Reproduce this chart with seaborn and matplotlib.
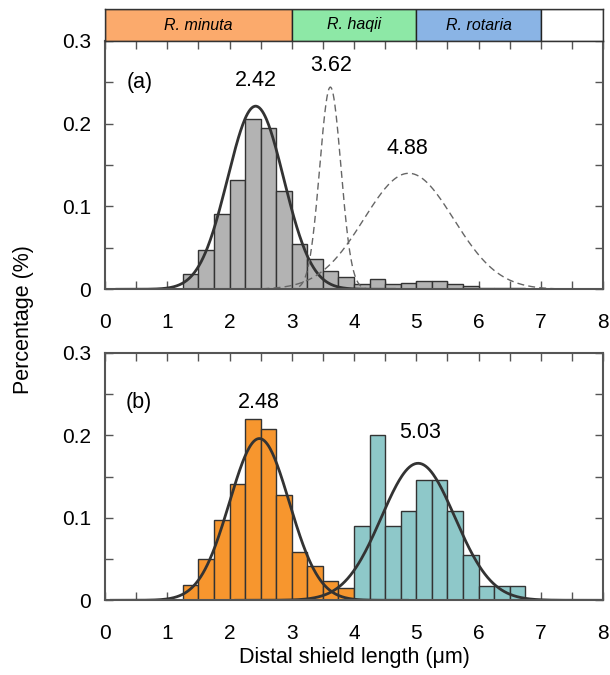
import numpy as np
import pandas as pd
import seaborn as sns
import matplotlib.pyplot as plt

# histogram percentages, bin width 0.25 um
bin_width = 0.25
top_start = 1.25
top_pct = [0.018, 0.047, 0.091, 0.132, 0.206, 0.195, 0.119, 0.055, 0.037,
           0.022, 0.015, 0.006, 0.012, 0.006, 0.007, 0.0096, 0.0096, 0.0064,
           0.0036, 0.001, 0.001, 0.001]
orange_start = 1.25
orange_pct = [0.019, 0.050, 0.097, 0.141, 0.220, 0.208, 0.127, 0.059, 0.041,
              0.023, 0.015]
teal_start = 4.0
teal_pct = [0.090, 0.200, 0.090, 0.1085, 0.1455, 0.1455, 0.1085, 0.055,
            0.0177, 0.0177, 0.0177]

# fitted normal curves: mean, sd, peak height
top_mean = [2.42, 3.62, 4.88]
top_sd = [0.45, 0.17, 0.72]
top_peak = [0.221, 0.244, 0.140]
bot_mean = [2.48, 5.03]
bot_sd = [0.48, 0.59]
bot_peak = [0.196, 0.166]

species = ["R. minuta", "R. haqii", "R. rotaria", ""]
species_lo = [0, 3, 5, 7]
species_hi = [3, 5, 7, 8]
species_col = ["#FBAA6C", "#8DE8A6", "#8AB4E5", "#FFFFFF"]

sns.set_style("ticks")
plt.rcParams["font.family"] = ["Liberation Sans", "DejaVu Sans"]
plt.rcParams["text.color"] = "black"
plt.rcParams["xtick.labelcolor"] = "black"
plt.rcParams["ytick.labelcolor"] = "black"

W, H = 610, 675
fig = plt.figure(figsize=(W / 100, H / 100), dpi=100)


def box(l, t, r, b):
    return [l / W, 1 - b / H, (r - l) / W, (b - t) / H]


ax_top = fig.add_axes(box(105, 40.7, 603, 289.3))
ax_bot = fig.add_axes(box(105, 352.7, 603, 600.3))
ax_band = fig.add_axes(box(105, 9.3, 603, 40.7))


def draw_hist(ax, start, pct, color):
    n = len(pct)
    df = pd.DataFrame({"x": start + bin_width * (np.arange(n) + 0.5),
                       "pct": pct})
    sns.histplot(data=df, x="x", weights="pct", binwidth=bin_width,
                 binrange=(start, start + bin_width * n), stat="count",
                 color=color, alpha=1, edgecolor="#333333", linewidth=1,
                 ax=ax)


def draw_fit(ax, mean, sd, peak, **kw):
    xs = np.linspace(max(mean - 5 * sd, 0), min(mean + 5 * sd, 8), 400)
    ys = peak * np.exp(-0.5 * ((xs - mean) / sd) ** 2)
    sns.lineplot(x=xs, y=ys, ax=ax, sort=False, **kw)


draw_hist(ax_top, top_start, top_pct, "#B3B3B3")
draw_fit(ax_top, top_mean[0], top_sd[0], top_peak[0], color="#333333", lw=2)
for m, s, p in zip(top_mean[1:], top_sd[1:], top_peak[1:]):
    draw_fit(ax_top, m, s, p, color="#666666", lw=1, linestyle=(0, (5, 3)))

draw_hist(ax_bot, orange_start, orange_pct, "#F7962E")
draw_hist(ax_bot, teal_start, teal_pct, "#8EC8C9")
for m, s, p in zip(bot_mean, bot_sd, bot_peak):
    draw_fit(ax_bot, m, s, p, color="#333333", lw=2)

xt = np.arange(0, 8.01, 0.5)
xl = [str(int(v)) if v == int(v) else "" for v in xt]
yt = np.arange(0, 0.301, 0.05)
yl = ["0", "", "0.1", "", "0.2", "", "0.3"]
for ax in (ax_top, ax_bot):
    ax.set_xlim(0, 8)
    ax.set_ylim(0, 0.3)
    ax.set_xticks(xt)
    ax.set_xticklabels(xl)
    ax.set_yticks(yt)
    ax.set_yticklabels(yl)
    ax.set_xlabel("")
    ax.set_ylabel("")
    ax.tick_params(direction="in", top=True, right=True, length=6, width=1,
                   color="#555555", labelsize=15, labelcolor="black")
    ax.tick_params(axis="x", pad=17)
    ax.tick_params(axis="y", pad=10)
    for sp in ax.spines.values():
        sp.set_visible(True)
        sp.set_color("#555555")
        sp.set_linewidth(1.5)

# labels on the panels
ax_top.text(0.56, 0.250, "(a)", fontsize=15.5, ha="center", va="center")
ax_top.text(2.43, 0.252, f"{top_mean[0]:.2f}", fontsize=15.5, ha="center", va="center")
ax_top.text(3.63, 0.270, f"{top_mean[1]:.2f}", fontsize=15.5, ha="center", va="center")
ax_top.text(4.85, 0.170, f"{top_mean[2]:.2f}", fontsize=15.5, ha="center", va="center")
ax_bot.text(0.54, 0.240, "(b)", fontsize=15.5, ha="center", va="center")
ax_bot.text(2.47, 0.240, f"{bot_mean[0]:.2f}", fontsize=15.5, ha="center", va="center")
ax_bot.text(5.06, 0.203, f"{bot_mean[1]:.2f}", fontsize=15.5, ha="center", va="center")

# species band on top
for name, lo, hi, col in zip(species, species_lo, species_hi, species_col):
    ax_band.axvspan(lo, hi, facecolor=col, edgecolor="#222222", lw=1)
    ax_band.text((lo + hi) / 2, 0.5, name, fontsize=11.5, style="italic",
                 ha="center", va="center")
ax_band.set_xlim(0, 8)
ax_band.set_ylim(0, 1)
ax_band.set_xticks([])
ax_band.set_yticks([])
for sp in ax_band.spines.values():
    sp.set_visible(True)
    sp.set_color("#333333")
    sp.set_linewidth(1)

fig.text(23 / W, 1 - 320 / H, "Percentage (%)", rotation=90, fontsize=15.5,
         ha="center", va="center")
fig.text(354 / W, 1 - 658 / H, "Distal shield length (\u03bcm)", fontsize=15.5,
         ha="center", va="center")

fig.savefig("out.png", dpi=100)
